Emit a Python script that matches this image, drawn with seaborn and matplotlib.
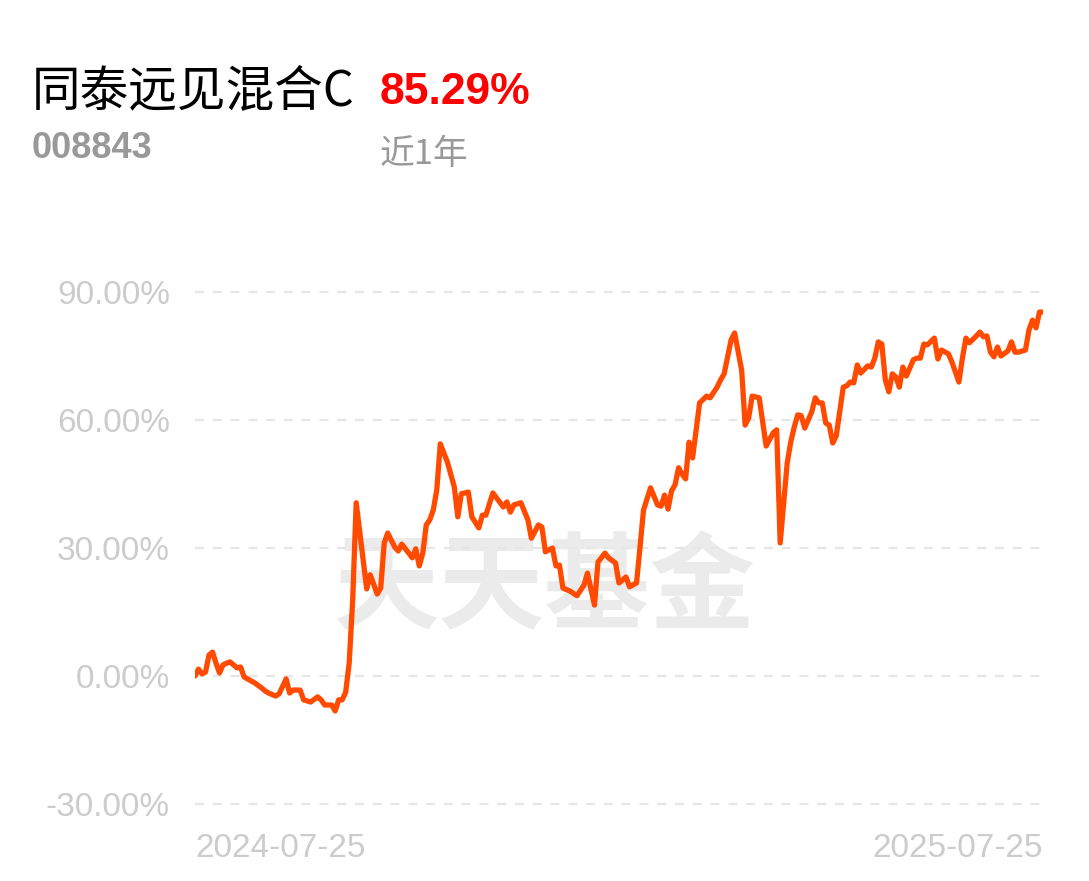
import pandas as pd
import numpy as np
import matplotlib
matplotlib.use("Agg")
import matplotlib.pyplot as plt
import seaborn as sns

# fund info
fund_name = "同泰远见混合C"
fund_code = "008843"
period_ret = "85.29%"
period_name = "近1年"
start_label = "2024-07-25"
end_label = "2025-07-25"

# cumulative return (%) by trading-day index
trade_idx = [0, 1, 2, 3, 4, 5, 6, 7, 8, 9, 10, 11, 12, 13, 14, 15, 17, 19, 20, 21,
             23, 24, 26, 27, 28, 30, 31, 33, 35, 36, 37, 39, 40, 41, 42, 43, 44, 45, 46, 49,
             50, 52, 53, 54, 55, 57, 58, 59, 61, 62, 63, 64, 65, 66, 67, 68, 69, 70, 72, 74,
             75, 76, 78, 79, 81, 82, 83, 85, 88, 89, 90, 91, 93, 95, 96, 98, 99, 100, 102, 103,
             104, 105, 107, 109, 111, 112, 114, 115, 117, 118, 120, 121, 123, 124, 126, 127, 128, 130, 132, 133,
             134, 135, 136, 137, 138, 139, 140, 141, 142, 144, 146, 147, 149, 150, 151, 153, 154, 156, 157, 158,
             159, 161, 163, 165, 166, 167, 169, 170, 171, 172, 173, 174, 176, 177, 178, 179, 180, 181, 182, 183,
             185, 186, 187, 188, 189, 190, 192, 193, 194, 195, 196, 197, 198, 199, 200, 201, 202, 203, 205, 206,
             207, 208, 209, 211, 212, 213, 215, 216, 218, 219, 220, 221, 223, 224, 225, 226, 227, 228, 229, 230,
             232, 233, 234, 235, 237, 238, 239, 240, 241, 242]
ret_pct = [0.0, 1.6, 0.5, 0.9, 4.9, 5.6, 3.0, 0.7, 2.6, 3.0, 3.3, 2.6, 1.9, 2.1, -0.2, -0.7, -1.6, -2.8, -3.5, -4.0,
           -4.7, -4.2, -0.7, -4.0, -3.3, -3.3, -5.6, -6.1, -4.9, -5.6, -6.8, -6.8, -8.2, -5.6, -5.6, -3.8, 3.0, 17.8, 40.6, 20.4,
           23.7, 19.2, 20.6, 31.2, 33.5, 30.2, 29.3, 30.9, 28.8, 27.7, 29.8, 25.8, 28.8, 35.4, 36.6, 38.9, 43.6, 54.4, 50.2, 44.3,
           37.3, 42.7, 43.1, 37.3, 34.7, 37.7, 37.7, 42.9, 39.6, 40.8, 38.4, 40.1, 40.6, 36.6, 32.3, 35.4, 34.9, 29.1, 30.0, 25.8,
           26.0, 20.6, 19.9, 18.8, 21.3, 24.1, 16.6, 26.7, 28.8, 27.7, 26.5, 21.8, 23.2, 20.9, 21.8, 30.2, 38.9, 44.1, 40.1, 39.8,
           42.4, 39.1, 43.4, 44.8, 48.8, 47.3, 46.2, 54.8, 51.1, 64.0, 65.6, 65.2, 67.7, 69.4, 70.8, 78.8, 80.4, 71.7, 58.8, 60.5,
           65.6, 65.2, 53.9, 57.0, 57.7, 31.2, 49.9, 54.8, 58.3, 61.2, 61.0, 58.1, 61.9, 65.2, 64.0, 64.0, 59.3, 58.8, 54.6, 56.3,
           67.7, 68.0, 68.9, 68.7, 72.9, 71.0, 72.7, 72.4, 74.5, 78.3, 77.8, 69.4, 66.6, 70.8, 70.1, 67.7, 72.4, 70.3, 74.1, 74.5,
           74.5, 77.8, 77.6, 79.2, 74.3, 76.4, 75.5, 73.6, 68.9, 74.5, 79.2, 78.1, 79.7, 80.6, 79.5, 79.7, 75.9, 74.8, 77.1, 75.0,
           76.2, 78.3, 75.9, 75.9, 76.4, 81.1, 83.4, 81.6, 85.3, 85.29]

y_ticks = [-30, 0, 30, 60, 90]

df = pd.DataFrame({"idx": trade_idx, "ret": ret_pct})

sns.set_style("white")
plt.rcParams["font.family"] = ["Liberation Sans", "Noto Sans CJK SC", "DejaVu Sans"]

fig = plt.figure(figsize=(10.89, 8.81), dpi=100)
ax = fig.add_axes([195 / 1089, 0.07775, 848 / 1089, 0.6005])

# watermark
ax.text(0.413, 0.42, "天天基金", transform=ax.transAxes, ha="center", va="center",
        fontsize=76, fontweight="bold", color="#ebebeb", family=["Noto Sans CJK SC"], zorder=0)

sns.lineplot(data=df, x="idx", y="ret", ax=ax, color="#ff4a00", linewidth=3.8, zorder=3)
ax.lines[-1].set_solid_joinstyle("round")
ax.lines[-1].set_solid_capstyle("round")

ax.set_xlim(0, 242)
ax.set_ylim(-32, 92)
ax.set_yticks(y_ticks)
ax.set_yticklabels([f"{v:.2f}%" for v in y_ticks])
ax.set_xticks([0, 242])
ax.set_xticklabels([start_label, end_label])
xl = ax.get_xticklabels()
xl[0].set_ha("left")
xl[1].set_ha("right")
ax.tick_params(axis="y", length=0, pad=18, labelsize=24, labelcolor="#cccccc")
ax.tick_params(axis="x", length=0, pad=15, labelsize=24, labelcolor="#cccccc")
for v in y_ticks:
    ax.axhline(v, color="#e6e6e6", linewidth=1.6, linestyle=(0, (4, 4)), zorder=1)
ax.grid(False)
for s in ax.spines.values():
    s.set_visible(False)
ax.set_xlabel("")
ax.set_ylabel("")

# header
fig.text(32 / 1089, 1 - 105 / 881, fund_name, fontsize=35, color="black",
         family=["Noto Sans CJK SC", "DejaVu Sans"], va="baseline", ha="left")
fig.text(380 / 1089, 1 - 104 / 881, period_ret, fontsize=32, color="#ff0000", fontweight="bold",
         family=["Liberation Sans Narrow", "Liberation Sans"], va="baseline", ha="left")
fig.text(32 / 1089, 1 - 158 / 881, fund_code, fontsize=26, color="#999999", fontweight="bold",
         family=["Liberation Sans Narrow", "Liberation Sans"], va="baseline", ha="left")
fig.text(380 / 1089, 1 - 164 / 881, period_name, fontsize=25, color="#999999",
         family=["Noto Sans CJK SC", "DejaVu Sans"], va="baseline", ha="left")

fig.savefig("out.png", dpi=100)
